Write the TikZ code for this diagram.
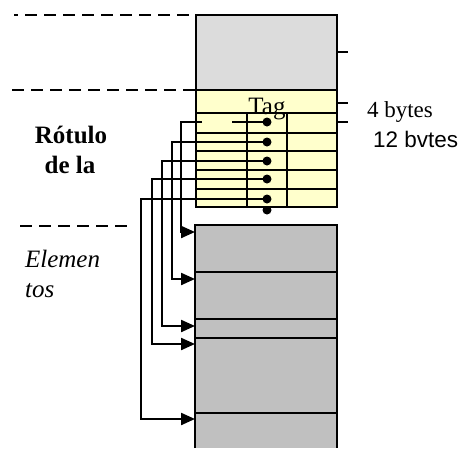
\documentclass[tikz,border=0pt]{standalone}
\usepackage{fontspec}
\setmainfont{Liberation Serif}
\newfontfamily\arialfont{Liberation Sans}
\usetikzlibrary{arrows.meta}
\definecolor{lightgrey}{HTML}{DCDCDC}
\definecolor{paleyellow}{HTML}{FFFFCC}
\definecolor{midgrey}{HTML}{C0C0C0}

\begin{document}
\begin{tikzpicture}[x=1pt, y=-1pt, line width=2.2pt, frame/.style={draw, line width=2.6pt}, sep/.style={line width=2.6pt, dash pattern=on 12pt off 7pt}, ptr/.style={-{Triangle[length=14pt,width=12pt]}}, caption/.style={inner sep=0pt, anchor=base, font=\fontsize{25}{30}\selectfont}, bytesnote/.style={inner sep=0pt, anchor=base west, font=\fontsize{23}{26}\selectfont}]
\useasboundingbox (0,0) rectangle (464,448);
\draw[sep, dash phase=8pt] (14,15) -- (195,15);
\draw[sep] (12,90) -- (195,90);
\draw[sep] (20,226) -- (127,226);
\draw[frame, fill=lightgrey] (196,15) rectangle (337,90);
\fill (267,210) circle (4.5);
\fill[paleyellow] (196,90) rectangle (337,207);
\foreach \y in {113,133,151,170,189} \draw (196,\y) -- (337,\y);
\draw (247,113) -- (247,207) (287,113) -- (287,207);
\draw[frame] (196,90) rectangle (337,207);
\node[inner sep=0pt, anchor=base, font=\fontsize{25}{28}\selectfont] (tag) at (267,114) {Tag};
\fill[midgrey] (195,225) rectangle (337,448);
\foreach \y in {272,319,338,413} \draw (195,\y) -- (337,\y);
\draw[line width=2.6pt] (195,448) -- (195,225) -- (337,225) -- (337,448);
\foreach \y in {52,103,122} \draw (337,\y) -- (348,\y);
\coordinate (dot1) at (267,122);
\coordinate (elem1) at (195,232);
\fill (dot1) circle (4.5);
\draw[ptr] (dot1) -- (232,122) (202,122) -- (181,122) |- (elem1);
\foreach \n/\y/\x/\t in {2/142/172/279, 3/161/162/326, 4/179/152/344, 5/199/141/419} {
  \coordinate (dot\n) at (267,\y);
  \coordinate (elem\n) at (195,\t);
  \fill (dot\n) circle (4.5);
  \draw[ptr] (dot\n) -- (\x,\y) |- (elem\n);
}
\node[caption, font=\fontsize{25}{30}\selectfont\bfseries] (rotulo) at (71,143) {Rótulo};
\node[caption, font=\fontsize{25}{30}\selectfont\bfseries] (dela) at (70,173) {de la};
\node[caption, anchor=base west, font=\fontsize{25}{30}\selectfont\itshape] (elemen) at (24,267) {Elemen};
\node[caption, anchor=base west, font=\fontsize{25}{30}\selectfont\itshape] (tos) at (24,297) {tos};
\node[bytesnote] (four) at (366,117) {4 bytes};
\node[bytesnote, font=\fontsize{22.5}{26}\selectfont\arialfont] (twelve) at (372,147) {12 bvtes};
\end{tikzpicture}
\end{document}
